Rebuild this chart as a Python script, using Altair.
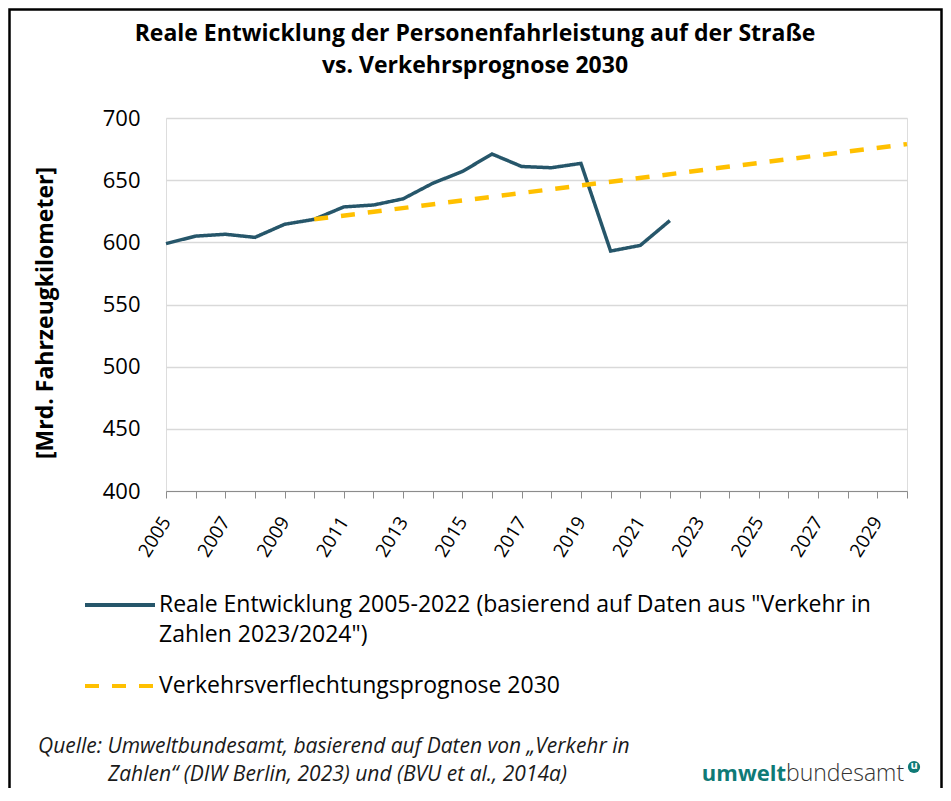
import altair as alt
import pandas as pd

# ---------------- data ----------------
TITLE_LINES = ["Reale Entwicklung der Personenfahrleistung auf der Straße",
               "vs. Verkehrsprognose 2030"]
Y_TITLE = "[Mrd. Fahrzeugkilometer]"

REAL_YEARS = list(range(2005, 2023))
REAL_VALUES = [599, 605, 606.5, 604, 614.5, 618.5, 628.5, 630, 635, 647.5,
               657, 671, 661, 660, 663.5, 593, 597.5, 617.5]
PROG_YEARS = [2010, 2030]
PROG_VALUES = [618.5, 679]

SERIES = ["real", "prog"]
LEGEND_LABELS = [
    ["Reale Entwicklung 2005-2022 (basierend auf Daten aus \"Verkehr in",
     "Zahlen 2023/2024\")"],
    ["Verkehrsverflechtungsprognose 2030"],
]
SERIES_COLORS = ["#26566a", "#ffc000"]
SERIES_DASH = [[1, 0], [14, 13]]
SERIES_WIDTH = [3.5, 4.5]

Y_TICKS = [400, 450, 500, 550, 600, 650, 700]
X_TICKS = list(range(2005, 2031))

SOURCE_LINES = ["Quelle: Umweltbundesamt, basierend auf Daten von „Verkehr in",
                "Zahlen“ (DIW Berlin, 2023) und (BVU et al., 2014a)"]
LOGO = ["umwelt", "bundesamt", "u"]
LOGO_COLOR = "#0f7a76"

# ---------------- table ----------------
df = pd.concat([
    pd.DataFrame({"Jahr": REAL_YEARS, "Wert": REAL_VALUES, "Reihe": SERIES[0]}),
    pd.DataFrame({"Jahr": PROG_YEARS, "Wert": PROG_VALUES, "Reihe": SERIES[1]}),
], ignore_index=True)
one = pd.DataFrame({"k": [0]})

W, H = 741, 373
PAD = {"left": 158, "top": 110, "right": 36, "bottom": 297}
FONT = "Open Sans"

color_scale = alt.Scale(domain=SERIES, range=SERIES_COLORS)
dash_scale = alt.Scale(domain=SERIES, range=SERIES_DASH)
width_scale = alt.Scale(domain=SERIES, range=SERIES_WIDTH)

x = alt.X("Jahr:Q", scale=alt.Scale(domain=[2005, 2030], nice=False, zero=False),
          axis=alt.Axis(values=X_TICKS, format="d", title=None,
                        labelExpr="datum.value % 2 == 1 && datum.value < 2030 ? datum.label : ''",
                        labelAngle=-58, labelFontSize=19, labelFont=FONT, labelColor="#000",
                        labelPadding=20, tickSize=7, tickColor="#8c8c8c", domainColor="#8c8c8c",
                        domainWidth=1.2, grid=False, labelOverlap=False, labelFlush=False))
y = alt.Y("Wert:Q", scale=alt.Scale(domain=[400, 700], nice=False, zero=False),
          axis=alt.Axis(values=Y_TICKS, title=Y_TITLE, titleFont=FONT, titleFontSize=23,
                        titleFontWeight="bold", titleColor="#000", titleX=-121, titleY=H / 2 + 8,
                        titleAlign="center", titleBaseline="middle", titleAngle=-90,
                        labelFontSize=22, labelFont=FONT, labelColor="#000", labelPadding=26,
                        ticks=False, domain=False, grid=True, gridColor="#d9d9d9", gridWidth=1.3))

lines = alt.Chart(df).mark_line().encode(
    x=x, y=y,
    color=alt.Color("Reihe:N", scale=color_scale, legend=None),
    strokeDash=alt.StrokeDash("Reihe:N", scale=dash_scale, legend=None),
    strokeWidth=alt.StrokeWidth("Reihe:N", scale=width_scale, legend=None),
)

layers = [lines]

# legend (drawn as marks, positions in pixels relative to the plot area)
LEG_Y = [487, 568]
for i, s in enumerate(SERIES):
    d = pd.DataFrame({"Reihe": [s]})
    layers.append(alt.Chart(d).mark_rule(strokeCap="butt").encode(
        x=alt.value(-81), x2=alt.value(-11), y=alt.value(LEG_Y[i]),
        color=alt.Color("Reihe:N", scale=color_scale, legend=None),
        strokeDash=alt.StrokeDash("Reihe:N", scale=dash_scale, legend=None),
        strokeWidth=alt.value(4)))
    for j, line in enumerate(LEGEND_LABELS[i]):
        layers.append(alt.Chart(one).mark_text(
            align="left", baseline="middle", font=FONT, fontSize=23, color="#000").encode(
            x=alt.value(-7), y=alt.value(LEG_Y[i] + 30 * j), text=alt.value(line)))

# title
for j, line in enumerate(TITLE_LINES):
    layers.append(alt.Chart(one).mark_text(
        align="center", baseline="middle", font=FONT, fontSize=23, fontWeight="bold",
        color="#000").encode(x=alt.value(309), y=alt.value(-84 + 32 * j), text=alt.value(line)))

# border
layers.append(alt.Chart(one).mark_rect(fill="transparent", stroke="#000", strokeWidth=2.5).encode(
    x=alt.value(-PAD["left"] + 1.5), x2=alt.value(W + PAD["right"] - 1.5),
    y=alt.value(-PAD["top"] + 1.5), y2=alt.value(H + PAD["bottom"] + 40)))

# source
SRC_POS = [(-128, 635), (-58, 663)]
for (sx, sy), line in zip(SRC_POS, SOURCE_LINES):
    layers.append(alt.Chart(one).mark_text(
        align="left", baseline="alphabetic", font=FONT, fontSize=21, fontStyle="italic",
        color="#1a1a1a").encode(x=alt.value(sx), y=alt.value(sy), text=alt.value(line)))

# logo
layers.append(alt.Chart(one).mark_text(align="right", baseline="alphabetic", font=FONT, fontSize=22,
                                       fontWeight="bold", color=LOGO_COLOR).encode(
    x=alt.value(620), y=alt.value(663), text=alt.value(LOGO[0])))
layers.append(alt.Chart(one).mark_text(align="left", baseline="alphabetic", font=FONT, fontSize=23,
                                       fontWeight=300, color="#333").encode(
    x=alt.value(620), y=alt.value(663), text=alt.value(LOGO[1])))
layers.append(alt.Chart(one).mark_point(filled=True, shape="circle", size=150, color=LOGO_COLOR,
                                        opacity=1).encode(x=alt.value(748), y=alt.value(649)))
layers.append(alt.Chart(one).mark_text(align="center", baseline="middle", font=FONT, fontSize=11,
                                       fontWeight="bold", color="#fff").encode(
    x=alt.value(748), y=alt.value(648), text=alt.value(LOGO[2])))

chart = alt.layer(*layers).properties(
    width=W, height=H,
    autosize=alt.AutoSizeParams(type="none", contains="content"),
    padding=PAD,
).configure_view(stroke=None).configure(font=FONT)

chart.save("out.html", embed_options={"renderer": "svg", "actions": False})
